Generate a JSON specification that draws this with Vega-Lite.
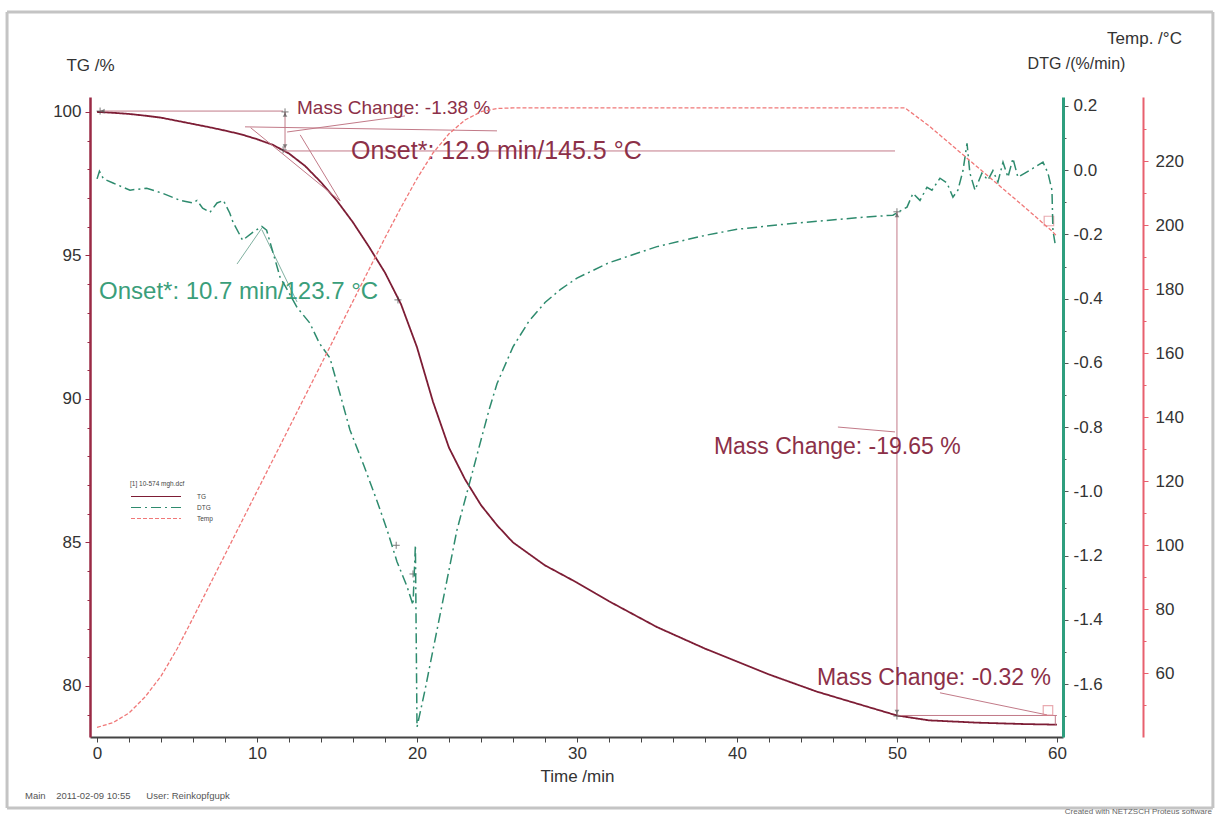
{
  "$schema": "https://vega.github.io/schema/vega-lite/v6.json",
  "width": 973,
  "height": 640,
  "autosize": {"type": "none"},
  "padding": {"left": 90, "top": 97, "right": 155, "bottom": 80},
  "background": "white",
  "config": {
    "view": {"stroke": null},
    "font": "Liberation Sans",
    "axis": {"grid": false, "labelOverlap": false, "labelFont": "Liberation Sans", "titleFont": "Liberation Sans", "labelFontSize": 17, "titleFontSize": 17, "titleFontWeight": "normal", "labelColor": "#333333", "titleColor": "#333333"},
    "axisX": {
      "title": "Time /min",
      "values": [0, 2, 4, 6, 8, 10, 12, 14, 16, 18, 20, 22, 24, 26, 28, 30, 32, 34, 36, 38, 40, 42, 44, 46, 48, 50, 52, 54, 56, 58, 60],
      "labelExpr": "datum.value % 10 === 0 ? datum.label : ''",
      "labelOverlap": false,
      "domainColor": "#444444", "domainWidth": 2,
      "tickColor": "#444444",
      "tickSize": 5,
      "labelPadding": 3,
      "titleX": 487, "titleY": 39, "titleAlign": "center", "titleBaseline": "middle"
    },
    "legend": {"orient": "none", "legendX": 40, "legendY": 384, "titleFontSize": 6.5, "labelFontSize": 6.5, "titleFontWeight": "normal", "titleColor": "#444444", "labelColor": "#444444", "symbolType": "M-1,0H9", "symbolSize": 100, "symbolStrokeWidth": 1.2, "rowPadding": 1, "titlePadding": 3, "labelOffset": 55}
  },
  "datasets": {
    "curves": [
      {"series": "TG", "t": 0, "v": 100.0}, {"series": "TG", "t": 1, "v": 99.97}, {"series": "TG", "t": 2, "v": 99.93}, {"series": "TG", "t": 3, "v": 99.87}, {"series": "TG", "t": 4, "v": 99.8}, {"series": "TG", "t": 5, "v": 99.69}, {"series": "TG", "t": 6, "v": 99.58}, {"series": "TG", "t": 7, "v": 99.47}, {"series": "TG", "t": 8, "v": 99.35}, {"series": "TG", "t": 9, "v": 99.22}, {"series": "TG", "t": 10, "v": 99.05}, {"series": "TG", "t": 11, "v": 98.85}, {"series": "TG", "t": 12, "v": 98.55}, {"series": "TG", "t": 13, "v": 98.12}, {"series": "TG", "t": 14, "v": 97.55}, {"series": "TG", "t": 15, "v": 96.9}, {"series": "TG", "t": 16, "v": 96.15}, {"series": "TG", "t": 17, "v": 95.3}, {"series": "TG", "t": 18, "v": 94.4}, {"series": "TG", "t": 19, "v": 93.3}, {"series": "TG", "t": 20, "v": 91.8}, {"series": "TG", "t": 21, "v": 89.9}, {"series": "TG", "t": 22, "v": 88.3}, {"series": "TG", "t": 23, "v": 87.2}, {"series": "TG", "t": 24, "v": 86.3}, {"series": "TG", "t": 25, "v": 85.6}, {"series": "TG", "t": 26, "v": 85.0}, {"series": "TG", "t": 27, "v": 84.6}, {"series": "TG", "t": 28, "v": 84.2}, {"series": "TG", "t": 30, "v": 83.6}, {"series": "TG", "t": 32, "v": 82.95}, {"series": "TG", "t": 35, "v": 82.05}, {"series": "TG", "t": 38, "v": 81.3}, {"series": "TG", "t": 40, "v": 80.85}, {"series": "TG", "t": 42, "v": 80.4}, {"series": "TG", "t": 45, "v": 79.8}, {"series": "TG", "t": 48, "v": 79.3}, {"series": "TG", "t": 50, "v": 78.97}, {"series": "TG", "t": 52, "v": 78.8}, {"series": "TG", "t": 55, "v": 78.72}, {"series": "TG", "t": 58, "v": 78.67}, {"series": "TG", "t": 60, "v": 78.65},
      {"series": "DTG", "t": 0, "v": -0.027}, {"series": "DTG", "t": 0.15, "v": -0.003}, {"series": "DTG", "t": 0.4, "v": -0.027}, {"series": "DTG", "t": 1.0, "v": -0.04}, {"series": "DTG", "t": 2.06, "v": -0.062}, {"series": "DTG", "t": 3.1, "v": -0.056}, {"series": "DTG", "t": 4.1, "v": -0.072}, {"series": "DTG", "t": 5.2, "v": -0.094}, {"series": "DTG", "t": 6.0, "v": -0.102}, {"series": "DTG", "t": 6.25, "v": -0.094}, {"series": "DTG", "t": 6.6, "v": -0.118}, {"series": "DTG", "t": 7.06, "v": -0.131}, {"series": "DTG", "t": 7.5, "v": -0.102}, {"series": "DTG", "t": 7.9, "v": -0.094}, {"series": "DTG", "t": 8.3, "v": -0.134}, {"series": "DTG", "t": 8.5, "v": -0.162}, {"series": "DTG", "t": 9.1, "v": -0.218}, {"series": "DTG", "t": 9.75, "v": -0.193}, {"series": "DTG", "t": 10.3, "v": -0.175}, {"series": "DTG", "t": 10.6, "v": -0.187}, {"series": "DTG", "t": 11.44, "v": -0.333}, {"series": "DTG", "t": 11.9, "v": -0.373}, {"series": "DTG", "t": 12.5, "v": -0.427}, {"series": "DTG", "t": 13.3, "v": -0.476}, {"series": "DTG", "t": 13.9, "v": -0.539}, {"series": "DTG", "t": 14.56, "v": -0.585}, {"series": "DTG", "t": 15.19, "v": -0.697}, {"series": "DTG", "t": 15.81, "v": -0.809}, {"series": "DTG", "t": 16.69, "v": -0.921}, {"series": "DTG", "t": 17.5, "v": -1.03}, {"series": "DTG", "t": 18.13, "v": -1.12}, {"series": "DTG", "t": 18.75, "v": -1.219}, {"series": "DTG", "t": 19.38, "v": -1.297}, {"series": "DTG", "t": 19.75, "v": -1.354}, {"series": "DTG", "t": 19.9, "v": -1.167}, {"series": "DTG", "t": 20.0, "v": -1.734}, {"series": "DTG", "t": 20.5, "v": -1.619}, {"series": "DTG", "t": 21, "v": -1.494}, {"series": "DTG", "t": 21.5, "v": -1.37}, {"series": "DTG", "t": 22, "v": -1.245}, {"series": "DTG", "t": 22.5, "v": -1.12}, {"series": "DTG", "t": 23, "v": -1.027}, {"series": "DTG", "t": 23.5, "v": -0.934}, {"series": "DTG", "t": 24, "v": -0.84}, {"series": "DTG", "t": 24.5, "v": -0.747}, {"series": "DTG", "t": 25, "v": -0.665}, {"series": "DTG", "t": 26, "v": -0.55}, {"series": "DTG", "t": 27, "v": -0.47}, {"series": "DTG", "t": 28, "v": -0.412}, {"series": "DTG", "t": 29, "v": -0.37}, {"series": "DTG", "t": 30, "v": -0.336}, {"series": "DTG", "t": 32, "v": -0.288}, {"series": "DTG", "t": 35, "v": -0.238}, {"series": "DTG", "t": 38, "v": -0.203}, {"series": "DTG", "t": 40, "v": -0.184}, {"series": "DTG", "t": 43, "v": -0.168}, {"series": "DTG", "t": 45, "v": -0.159}, {"series": "DTG", "t": 48, "v": -0.146}, {"series": "DTG", "t": 49.75, "v": -0.14}, {"series": "DTG", "t": 50.63, "v": -0.115}, {"series": "DTG", "t": 51.0, "v": -0.072}, {"series": "DTG", "t": 51.44, "v": -0.094}, {"series": "DTG", "t": 51.88, "v": -0.053}, {"series": "DTG", "t": 52.19, "v": -0.062}, {"series": "DTG", "t": 52.69, "v": -0.025}, {"series": "DTG", "t": 53.13, "v": -0.04}, {"series": "DTG", "t": 53.5, "v": -0.084}, {"series": "DTG", "t": 53.81, "v": -0.062}, {"series": "DTG", "t": 54.13, "v": -0.001}, {"series": "DTG", "t": 54.38, "v": 0.084}, {"series": "DTG", "t": 54.56, "v": -0.009}, {"series": "DTG", "t": 54.88, "v": -0.062}, {"series": "DTG", "t": 55.31, "v": -0.009}, {"series": "DTG", "t": 55.69, "v": -0.031}, {"series": "DTG", "t": 56.0, "v": -0.001}, {"series": "DTG", "t": 56.31, "v": -0.037}, {"series": "DTG", "t": 56.63, "v": 0.025}, {"series": "DTG", "t": 56.94, "v": -0.022}, {"series": "DTG", "t": 57.25, "v": 0.037}, {"series": "DTG", "t": 57.56, "v": -0.022}, {"series": "DTG", "t": 58.0, "v": -0.009}, {"series": "DTG", "t": 58.5, "v": 0.006}, {"series": "DTG", "t": 59.13, "v": 0.025}, {"series": "DTG", "t": 59.44, "v": -0.009}, {"series": "DTG", "t": 59.69, "v": -0.062}, {"series": "DTG", "t": 59.75, "v": -0.187}, {"series": "DTG", "t": 59.88, "v": -0.227},
      {"series": "Temp", "t": 0, "v": 43}, {"series": "Temp", "t": 1, "v": 44.5}, {"series": "Temp", "t": 2, "v": 47.5}, {"series": "Temp", "t": 3, "v": 52.5}, {"series": "Temp", "t": 4, "v": 59}, {"series": "Temp", "t": 5, "v": 67.5}, {"series": "Temp", "t": 6, "v": 77.2}, {"series": "Temp", "t": 7, "v": 87.1}, {"series": "Temp", "t": 8, "v": 97}, {"series": "Temp", "t": 9, "v": 106.9}, {"series": "Temp", "t": 10, "v": 116.8}, {"series": "Temp", "t": 11, "v": 126.7}, {"series": "Temp", "t": 12, "v": 136.6}, {"series": "Temp", "t": 13, "v": 146.5}, {"series": "Temp", "t": 14, "v": 156.4}, {"series": "Temp", "t": 15, "v": 166.3}, {"series": "Temp", "t": 16, "v": 176.2}, {"series": "Temp", "t": 17, "v": 186.1}, {"series": "Temp", "t": 18, "v": 196}, {"series": "Temp", "t": 19, "v": 205.5}, {"series": "Temp", "t": 20, "v": 214.5}, {"series": "Temp", "t": 21, "v": 222.5}, {"series": "Temp", "t": 22, "v": 228.5}, {"series": "Temp", "t": 23, "v": 232.8}, {"series": "Temp", "t": 24, "v": 235.4}, {"series": "Temp", "t": 25, "v": 236.4}, {"series": "Temp", "t": 26, "v": 236.6}, {"series": "Temp", "t": 35, "v": 236.6}, {"series": "Temp", "t": 45, "v": 236.6}, {"series": "Temp", "t": 50.5, "v": 236.6}, {"series": "Temp", "t": 52, "v": 231}, {"series": "Temp", "t": 54, "v": 222.5}, {"series": "Temp", "t": 56, "v": 214}, {"series": "Temp", "t": 58, "v": 205.5}, {"series": "Temp", "t": 59.6, "v": 198.5}, {"series": "Temp", "t": 60, "v": 196.5}
    ],
    "annMaroon": [
      {"t": 0.19, "v": 100.03, "t2": 11.63, "v2": 100.03},
      {"t": 11.75, "v": 100.0, "t2": 11.75, "v2": 98.71},
      {"t": 11.88, "v": 99.3, "t2": 19.25, "v2": 99.86},
      {"t": 9.25, "v": 99.48, "t2": 25.0, "v2": 99.34},
      {"t": 11.63, "v": 98.64, "t2": 49.88, "v2": 98.64},
      {"t": 12.7, "v": 99.2, "t2": 15.2, "v2": 96.9},
      {"t": 9.6, "v": 99.45, "t2": 15.2, "v2": 96.9},
      {"t": 50, "v": 96.52, "t2": 50, "v2": 78.99},
      {"t": 46.31, "v": 89.02, "t2": 49.88, "v2": 88.85},
      {"t": 50, "v": 78.97, "t2": 60, "v2": 78.97},
      {"t": 59.9, "v": 78.97, "t2": 59.9, "v2": 78.65},
      {"t": 52.69, "v": 79.76, "t2": 59.38, "v2": 78.99}
    ],
    "annGreen": [
      {"t": 10.31, "v": 95.96, "t2": 8.75, "v2": 94.7},
      {"t": 10.31, "v": 95.89, "t2": 12.5, "v2": 93.38}
    ],
    "markers": [
      {"t": 11.63, "v": 98.68}, {"t": 18.81, "v": 93.45}, {"t": 50, "v": 96.52}, {"t": 50, "v": 78.95}, {"t": 11.75, "v": 100.0}, {"t": 0.19, "v": 100.03}, {"t": 19.75, "v": 83.9}, {"t": 18.7, "v": 84.9}
    ],
    "arrowUp": [{"t": 50, "v": 96.4}, {"t": 11.75, "v": 99.9}],
    "arrowDown": [{"t": 50, "v": 79.1}, {"t": 11.75, "v": 98.8}],
    "arrowLeft": [{"t": 0.35, "v": 100.03}],
    "squares": [{"t": 59.5, "v": 96.2}, {"t": 59.44, "v": 79.15}],
    "txtOnset": [{"t": 15.875, "v": 98.64, "label": "Onset*: 12.9 min/145.5 °C"}],
    "txtMass": [
      {"t": 38.56, "v": 88.33, "label": "Mass Change: -19.65 %"},
      {"t": 45.0, "v": 80.28, "label": "Mass Change: -0.32 %"}
    ],
    "txtMassSmall": [{"t": 12.5, "v": 100.14, "label": "Mass Change: -1.38 %"}],
    "txtGreen": [{"t": 0.125, "v": 93.73, "label": "Onset*: 10.7 min/123.7 °C"}],
    "footLeft": [{"t": -4.5, "v": 76.17, "label": "Main\u00a0\u00a0\u00a0\u00a02011-02-09 10:55\u00a0\u00a0\u00a0\u00a0\u00a0\u00a0User: Reinkopfgupk"}],
    "footRight": [{"t": 69.69, "v": 75.6, "label": "Created with NETZSCH Proteus software"}],
    "one": [{"k": 1}]
  },
  "resolve": {"scale": {"y": "independent"}},
  "layer": [
    {
      "data": {"name": "one"},
      "layer": [
        {
          "mark": {"type": "rule", "color": "#c4c4c4", "strokeWidth": 3},
          "encoding": {
            "x": {"datum": -5.625, "type": "quantitative", "scale": {"domain": [-0.44, 60.38], "nice": false, "zero": false}},
            "x2": {"datum": 69.75},
            "y": {"datum": 103.48, "type": "quantitative", "scale": {"domain": [78.22, 100.52], "nice": false, "zero": false}, "axis": null}
          }
        },
        {
          "mark": {"type": "rule", "color": "#c4c4c4", "strokeWidth": 3},
          "encoding": {
            "x": {"datum": -5.625, "type": "quantitative", "scale": {"domain": [-0.44, 60.38], "nice": false, "zero": false}},
            "x2": {"datum": 69.75},
            "y": {"datum": 75.75, "type": "quantitative", "scale": {"domain": [78.22, 100.52], "nice": false, "zero": false}, "axis": null}
          }
        },
        {
          "mark": {"type": "rule", "color": "#c4c4c4", "strokeWidth": 3},
          "encoding": {
            "x": {"datum": -5.625, "type": "quantitative", "scale": {"domain": [-0.44, 60.38], "nice": false, "zero": false}},
            "y": {"datum": 103.48, "type": "quantitative", "scale": {"domain": [78.22, 100.52], "nice": false, "zero": false}, "axis": null},
            "y2": {"datum": 75.75}
          }
        },
        {
          "mark": {"type": "rule", "color": "#c4c4c4", "strokeWidth": 3},
          "encoding": {
            "x": {"datum": 69.75, "type": "quantitative", "scale": {"domain": [-0.44, 60.38], "nice": false, "zero": false}},
            "y": {"datum": 103.48, "type": "quantitative", "scale": {"domain": [78.22, 100.52], "nice": false, "zero": false}, "axis": null},
            "y2": {"datum": 75.75}
          }
        }
      ]
    },
    {
      "encoding": {
        "x": {
          "field": "t", "type": "quantitative", "title": "Time /min",
          "scale": {"domain": [-0.44, 60.38], "nice": false, "zero": false}
        },
        "y": {
          "field": "v", "type": "quantitative",
          "scale": {"domain": [78.22, 100.52], "nice": false, "zero": false},
          "axis": {
            "orient": "left", "title": "TG /%",
            "values": [79, 80, 81, 82, 83, 84, 85, 86, 87, 88, 89, 90, 91, 92, 93, 94, 95, 96, 97, 98, 99, 100],
            "labelExpr": "datum.value % 5 === 0 ? datum.label : ''",
            "domainColor": "#9a2a45", "domainWidth": 2.5,
            "tickColor": "#9a2a45",
            "tickSize": {"condition": {"test": "datum.value % 5 === 0", "value": 5}, "value": 3},
            "labelPadding": 4,
            "titleAngle": 0, "titleX": 0, "titleY": -32, "titleAlign": "center", "titleBaseline": "middle"
          }
        }
      },
      "layer": [
        {
          "data": {"name": "curves"},
          "transform": [{"filter": "datum.series === 'TG'"}],
          "mark": {"type": "line", "strokeWidth": 1.8},
          "encoding": {
            "color": {"field": "series", "type": "nominal", "title": "[1] 10-574 mgh.dcf", "scale": {"domain": ["TG", "DTG", "Temp"], "range": ["#7d1d35", "#2e8b6e", "#f07878"]}},
            "strokeDash": {"field": "series", "type": "nominal", "title": "[1] 10-574 mgh.dcf", "scale": {"domain": ["TG", "DTG", "Temp"], "range": [[1, 0], [10, 4, 2, 4], [4, 2]]}}
          }
        },
        {
          "data": {"name": "annMaroon"},
          "mark": {"type": "rule", "color": "#c27a88", "strokeWidth": 1},
          "encoding": {"x2": {"field": "t2"}, "y2": {"field": "v2"}}
        },
        {
          "data": {"name": "annGreen"},
          "mark": {"type": "rule", "color": "#80b0a0", "strokeWidth": 1},
          "encoding": {"x2": {"field": "t2"}, "y2": {"field": "v2"}}
        },
        {
          "data": {"name": "markers"},
          "mark": {"type": "point", "shape": "M-1,0L1,0M0,-1L0,1", "filled": false, "size": 50, "strokeWidth": 1, "color": "#444444"}
        },
        {
          "data": {"name": "arrowUp"},
          "mark": {"type": "point", "shape": "triangle-up", "filled": true, "size": 22, "color": "#555555"}
        },
        {
          "data": {"name": "arrowDown"},
          "mark": {"type": "point", "shape": "triangle-down", "filled": true, "size": 22, "color": "#555555"}
        },
        {
          "data": {"name": "arrowLeft"},
          "mark": {"type": "point", "shape": "triangle-left", "filled": true, "size": 22, "color": "#555555"}
        },
        {
          "data": {"name": "squares"},
          "mark": {"type": "point", "shape": "square", "filled": false, "size": 90, "strokeWidth": 1.2, "color": "#e08890"}
        },
        {
          "data": {"name": "txtOnset"},
          "mark": {"type": "text", "align": "left", "baseline": "middle", "fontSize": 25, "color": "#8c3048"},
          "encoding": {"text": {"field": "label"}}
        },
        {
          "data": {"name": "txtMass"},
          "mark": {"type": "text", "align": "left", "baseline": "middle", "fontSize": 23, "color": "#8c3048"},
          "encoding": {"text": {"field": "label"}}
        },
        {
          "data": {"name": "txtMassSmall"},
          "mark": {"type": "text", "align": "left", "baseline": "middle", "fontSize": 19, "color": "#8c3048"},
          "encoding": {"text": {"field": "label"}}
        },
        {
          "data": {"name": "txtGreen"},
          "mark": {"type": "text", "align": "left", "baseline": "middle", "fontSize": 24, "color": "#3a9e7a"},
          "encoding": {"text": {"field": "label"}}
        },
        {
          "data": {"name": "footLeft"},
          "mark": {"type": "text", "align": "left", "baseline": "middle", "fontSize": 9.5, "color": "#555555"},
          "encoding": {"text": {"field": "label"}}
        },
        {
          "data": {"name": "footRight"},
          "mark": {"type": "text", "align": "right", "baseline": "middle", "fontSize": 8, "color": "#666666"},
          "encoding": {"text": {"field": "label"}}
        }
      ]
    },
    {
      "data": {"name": "curves"},
      "transform": [{"filter": "datum.series === 'DTG'"}],
      "mark": {"type": "line", "strokeWidth": 1.5},
      "encoding": {
        "x": {"field": "t", "type": "quantitative", "title": "Time /min", "scale": {"domain": [-0.44, 60.38], "nice": false, "zero": false}},
        "y": {
          "field": "v", "type": "quantitative",
          "scale": {"domain": [-1.765, 0.228], "nice": false, "zero": false},
          "axis": {
            "orient": "right", "title": "DTG /(%/min)", "titleFontSize": 16,
            "values": [-1.7, -1.6, -1.5, -1.4, -1.3, -1.2, -1.1, -1.0, -0.9, -0.8, -0.7, -0.6, -0.5, -0.4, -0.3, -0.2, -0.1, 0.0, 0.1, 0.2],
            "labelExpr": "abs(round(datum.value * 10)) % 2 === 0 ? replace(format(datum.value, '.1f'), '\u2212', '-') : ''",
            "domainColor": "#2e9e7e", "domainWidth": 3,
            "tickColor": "#555555",
            "tickSize": {"condition": {"test": "abs(round(datum.value * 10)) % 2 === 0", "value": 5}, "value": 3},
            "labelPadding": 5,
            "titleAngle": 0, "titleX": 13, "titleY": -34, "titleAlign": "center", "titleBaseline": "middle"
          }
        },
        "color": {"field": "series", "type": "nominal", "title": "[1] 10-574 mgh.dcf", "scale": {"domain": ["TG", "DTG", "Temp"], "range": ["#7d1d35", "#2e8b6e", "#f07878"]}},
        "strokeDash": {"field": "series", "type": "nominal", "title": "[1] 10-574 mgh.dcf", "scale": {"domain": ["TG", "DTG", "Temp"], "range": [[1, 0], [10, 4, 2, 4], [4, 2]]}}
      }
    },
    {
      "data": {"name": "curves"},
      "transform": [{"filter": "datum.series === 'Temp'"}],
      "mark": {"type": "line", "strokeWidth": 1.3},
      "encoding": {
        "x": {"field": "t", "type": "quantitative", "title": "Time /min", "scale": {"domain": [-0.44, 60.38], "nice": false, "zero": false}},
        "y": {
          "field": "v", "type": "quantitative",
          "scale": {"domain": [40, 240], "nice": false, "zero": false},
          "axis": {
            "orient": "right", "offset": 80, "title": "Temp. /°C",
            "values": [50, 60, 70, 80, 90, 100, 110, 120, 130, 140, 150, 160, 170, 180, 190, 200, 210, 220, 230],
            "labelExpr": "datum.value % 20 === 0 ? datum.label : ''",
            "domainColor": "#e8606e", "domainWidth": 2,
            "tickColor": "#e8606e",
            "tickSize": {"condition": {"test": "datum.value % 20 === 0", "value": 5}, "value": 3},
            "labelPadding": 7,
            "titleAngle": 0, "titleX": 1, "titleY": -59, "titleAlign": "center", "titleBaseline": "middle"
          }
        },
        "color": {"field": "series", "type": "nominal", "title": "[1] 10-574 mgh.dcf", "scale": {"domain": ["TG", "DTG", "Temp"], "range": ["#7d1d35", "#2e8b6e", "#f07878"]}},
        "strokeDash": {"field": "series", "type": "nominal", "title": "[1] 10-574 mgh.dcf", "scale": {"domain": ["TG", "DTG", "Temp"], "range": [[1, 0], [10, 4, 2, 4], [4, 2]]}}
      }
    }
  ]
}
